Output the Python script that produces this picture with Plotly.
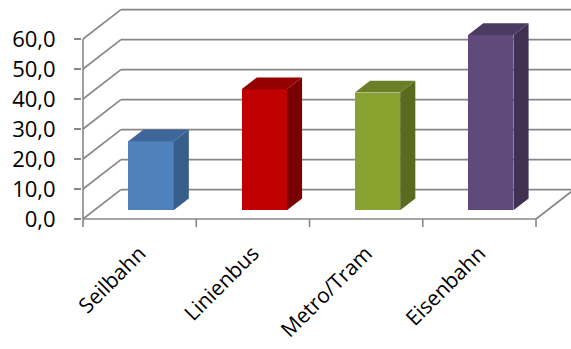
import plotly.graph_objects as go

# Data
categories = ["Seilbahn", "Linienbus", "Metro/Tram", "Eisenbahn"]
values = [23.0, 40.3, 39.2, 58.4]
front_colors = ["#4F81BD", "#C00000", "#88A230", "#604A7B"]
side_colors = ["#385E8B", "#7A0000", "#5A6B1F", "#3F3152"]
top_colors = ["#3F6699", "#940000", "#6A7F26", "#4B3A62"]
y_ticks = [0, 10, 20, 30, 40, 50, 60]

# Oblique 3D projection: depth vector in (category units, value units)
DX, DV = 0.335, 9.8
F0, F1 = 0.3, 0.7       # front/back depth fractions of the columns
HALF_W = 0.2            # half column width in category units
GRID = "#878787"

fig = go.Figure()

# Front faces of the columns
for i, (v, c) in enumerate(zip(values, front_colors)):
    fig.add_trace(go.Bar(
        x=[i + F0 * DX], y=[v], base=[F0 * DV], width=[2 * HALF_W],
        marker=dict(color=c, line=dict(width=0)), showlegend=False,
        hoverinfo="skip",
    ))

# Side and top faces
for i, v in enumerate(values):
    xl0, xr0 = i - HALF_W + F0 * DX, i + HALF_W + F0 * DX
    xl1, xr1 = i - HALF_W + F1 * DX, i + HALF_W + F1 * DX
    b0, b1 = F0 * DV, F1 * DV
    fig.add_trace(go.Scatter(
        x=[xr0, xr1, xr1, xr0, xr0], y=[b0, b1, v + b1, v + b0, b0],
        mode="lines", fill="toself", fillcolor=side_colors[i],
        line=dict(width=0, color=side_colors[i]), showlegend=False, hoverinfo="skip",
    ))
    fig.add_trace(go.Scatter(
        x=[xl0, xr0, xr1, xl1, xl0], y=[v + b0, v + b0, v + b1, v + b1, v + b0],
        mode="lines", fill="toself", fillcolor=top_colors[i],
        line=dict(width=0, color=top_colors[i]), showlegend=False, hoverinfo="skip",
    ))

# Walls, floor and axis lines
n = len(categories)
x_left, x_right = -0.5, n - 0.5
shapes = []
def seg(x0, y0, x1, y1):
    shapes.append(dict(type="line", xref="x", yref="y", x0=x0, y0=y0, x1=x1, y1=y1,
                       line=dict(color=GRID, width=1.6), layer="below"))

for t in y_ticks:
    seg(x_left, t, x_left + DX, t + DV)
    seg(x_left + DX, t + DV, x_right + DX, t + DV)
seg(x_left, 0, x_left, y_ticks[-1])
seg(x_left, 0, x_right, 0)
seg(x_right, 0, x_right + DX, DV)
for k in range(n + 1):
    seg(x_left + k, 0, x_left + k, -2.67)
fig.update_layout(shapes=shapes)

FONT = "Open Sans"
fig.update_layout(
    width=571, height=349,
    margin=dict(l=82, r=0, t=0, b=122),
    paper_bgcolor="white", plot_bgcolor="white",
    separators=",.",
    bargap=0,
    font=dict(family=FONT, size=22, color="#000000"),
    xaxis=dict(
        range=[-0.5088, 3.809], showgrid=False, zeroline=False, showline=False,
        tickmode="array", tickvals=list(range(n)), ticktext=categories,
        tickangle=-45, ticks="", ticklabelstandoff=9, automargin=False,
        tickfont=dict(family=FONT, size=21, color="#000000"),
    ),
    yaxis=dict(
        range=[-2.667, 73.0], showgrid=False, zeroline=False, showline=False,
        tickmode="array", tickvals=y_ticks, tickformat=".1f",
        ticks="outside", ticklen=7, tickwidth=1.6, tickcolor=GRID,
        ticklabelstandoff=14, automargin=False,
        tickfont=dict(family=FONT, size=22, color="#000000"),
    ),
)

fig.write_html("out.html")
